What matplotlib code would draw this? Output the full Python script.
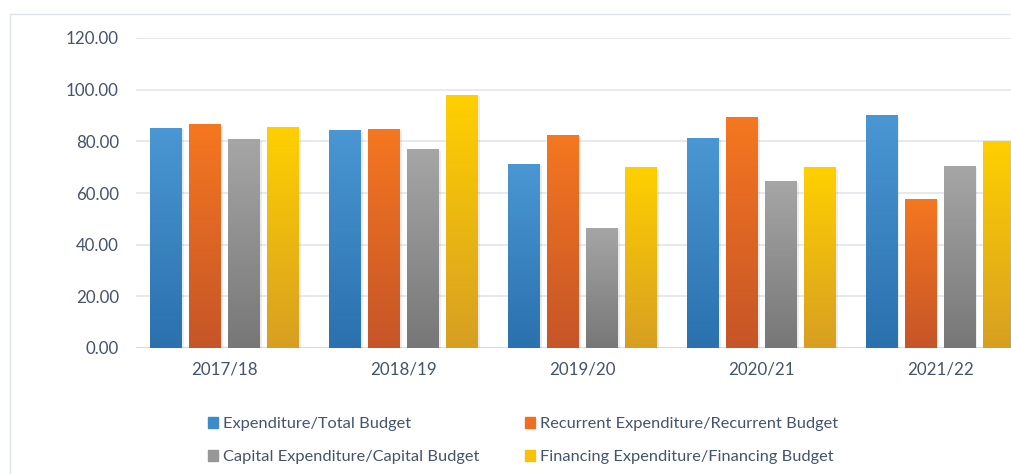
import matplotlib
matplotlib.use("Agg")
import matplotlib.pyplot as plt
import numpy as np
from matplotlib.colors import LinearSegmentedColormap
from matplotlib.patches import Rectangle

categories = ["2017/18", "2018/19", "2019/20", "2020/21", "2021/22"]
series_names = ["Expenditure/Total Budget", "Recurrent Expenditure/Recurrent Budget",
                "Capital Expenditure/Capital Budget", "Financing Expenditure/Financing Budget"]
expenditure_total = [85.2, 84.4, 71.2, 81.3, 90.2]
recurrent = [86.7, 84.8, 82.5, 89.4, 57.7]
capital = [80.9, 77.0, 46.5, 64.6, 70.4]
financing = [85.5, 98.0, 70.0, 70.0, 80.1]
yticks = [0, 20, 40, 60, 80, 100, 120]

values = [expenditure_total, recurrent, capital, financing]
grads = [("#4A97D3", "#2A71AE"), ("#F57720", "#C65528"),
         ("#A6A6A6", "#777777"), ("#FFD000", "#D79F22")]
legend_colors = ["#3D8BCB", "#EE6F22", "#979797", "#F7C20A"]

plt.rcParams["font.family"] = ["Lato", "DejaVu Sans"]

W, H = 1012, 474
fig = plt.figure(figsize=(W / 100, H / 100), dpi=100)
text_color = "#44546A"

# outer chart border
fig.patches.append(Rectangle((10 / W, -0.01), 1.1, (H - 14) / H + 0.01, transform=fig.transFigure,
                             fill=False, edgecolor="#DDE3EA", linewidth=1.0))

left, right = 135.5, 1029.5
bottom, top = 348, 38
ax = fig.add_axes([left / W, (H - bottom) / H, (right - left) / W, (bottom - top) / H])
ax.set_xlim(-0.5, len(categories) - 0.5)
ax.set_ylim(0, 120)
ax.set_yticks(yticks)
ax.set_yticklabels([f"{v:.2f}" for v in yticks])
ax.set_xticks(range(len(categories)))
ax.set_xticklabels(categories)
for s in ax.spines.values():
    s.set_visible(False)
ax.tick_params(length=0, colors=text_color, labelsize=12.2)
ax.tick_params(axis="y", pad=12)
ax.tick_params(axis="x", pad=10)
ax.grid(axis="y", color="#E1E6EC", linewidth=1.2)
ax.set_axisbelow(True)
ax.axhline(0, color="#D5DCE4", linewidth=1.5, zorder=1)

pitch = 39 / 179
bw = 32 / 179
x = np.arange(len(categories))
grad_img = np.linspace(1, 0, 256).reshape(-1, 1)
for i, (vals, (ctop, cbot)) in enumerate(zip(values, grads)):
    cmap = LinearSegmentedColormap.from_list(f"g{i}", [cbot, ctop])
    offs = (i - 1.5) * pitch
    bars = ax.bar(x + offs, vals, width=bw, color=legend_colors[i], zorder=3,
                  label=series_names[i], linewidth=0)
    for b in bars:
        bx, by = b.get_x(), b.get_y()
        bwid, bh = b.get_width(), b.get_height()
        # soft shadow
        ax.add_patch(Rectangle((bx + 0.006, 0), bwid + 0.004, bh - 0.6, color="#000000",
                               alpha=0.07, zorder=2, linewidth=0))
        im = ax.imshow(grad_img, extent=[bx, bx + bwid, 0, bh], aspect="auto",
                       cmap=cmap, vmin=0, vmax=1, zorder=3.5)
        im.set_clip_path(b)
ax.set_xlim(-0.5, len(categories) - 0.5)
ax.set_ylim(0, 120)

handles = [Rectangle((0, 0), 1, 1, color=c) for c in legend_colors]
order = [0, 2, 1, 3]
leg = fig.legend([handles[k] for k in order], [series_names[k] for k in order],
                 loc="upper left", bbox_to_anchor=(193 / W, 1 - 402 / H),
                 ncol=2, frameon=False, fontsize=11.8, handlelength=0.65, handleheight=0.65,
                 handletextpad=0.3, columnspacing=2.75, labelspacing=1.15,
                 labelcolor=text_color)

fig.savefig("out.png", dpi=100)
